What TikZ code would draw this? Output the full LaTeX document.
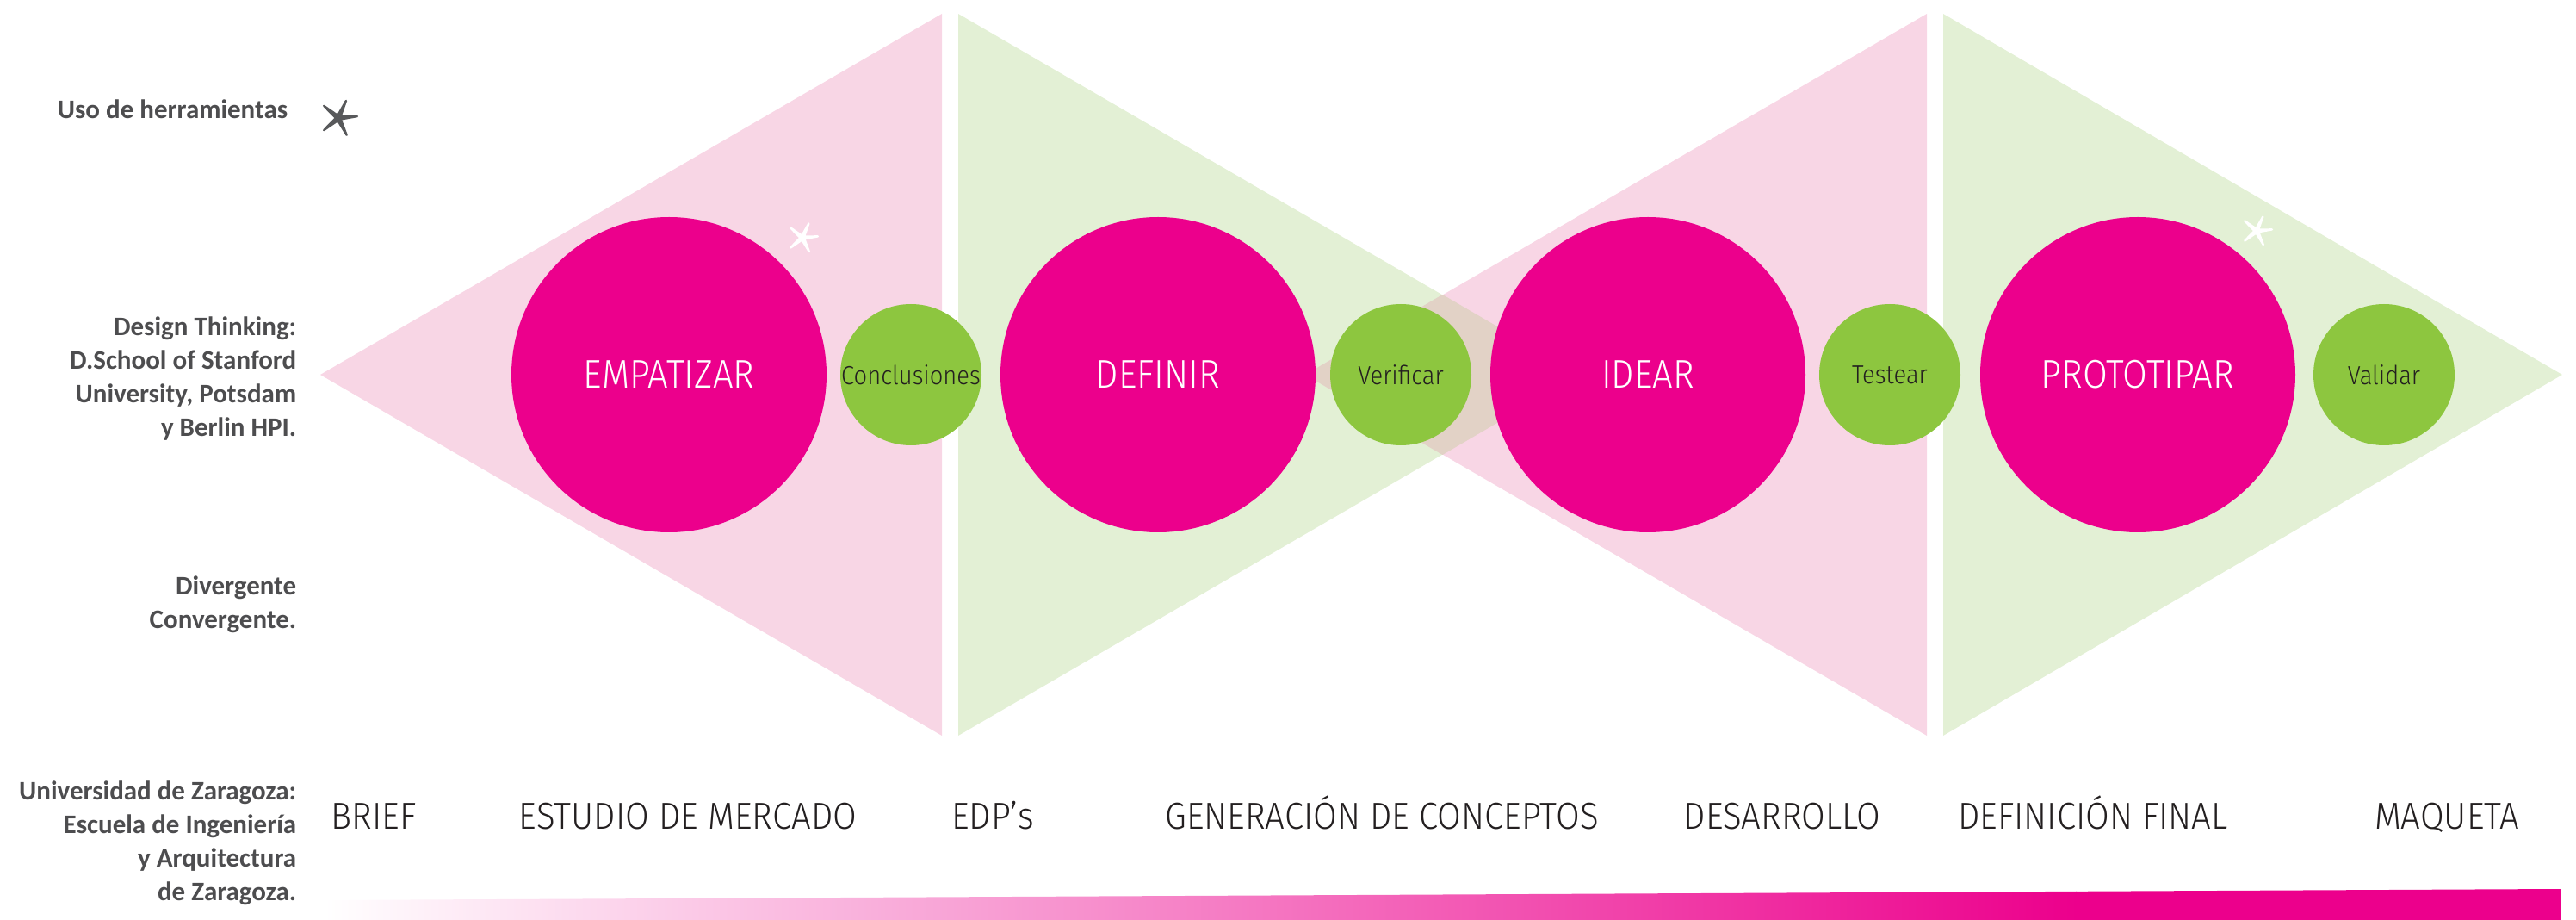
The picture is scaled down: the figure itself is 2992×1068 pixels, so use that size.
\documentclass[tikz,border=0pt]{standalone}
\usepackage{fontspec}
\setmainfont{Carlito}
\newfontfamily\thinfont{Fira Sans Light}[FakeStretch=0.9]
\newfontfamily\phasefont{Fira Sans Light}[FakeStretch=0.92]

\definecolor{hotpink}{HTML}{EC008C}
\definecolor{leaf}{HTML}{8DC63F}
\definecolor{pinkpale}{HTML}{F8D6E5}
\definecolor{greenpale}{HTML}{E3F0D5}
\definecolor{mixpale}{HTML}{E2D2C6}
\definecolor{labelgray}{HTML}{4D4D4F}
\definecolor{stargray}{HTML}{58595B}
\definecolor{inkblack}{HTML}{231F20}

\tikzset{
  sidelabel/.style={font=\fontsize{7.75}{9.75}\selectfont\bfseries, text=labelgray,
    align=right, inner sep=0pt},
  stagebig/.style={circle, fill=hotpink, minimum size=91.5pt, inner sep=0pt,
    text=white, font=\thinfont\fontsize{11.6}{12}\selectfont},
  stagesmall/.style={circle, fill=leaf, minimum size=41pt, inner sep=0pt,
    text=inkblack, font=\thinfont\fontsize{7.6}{8}\selectfont},
  phase/.style={anchor=base, inner sep=0pt, text=inkblack,
    font=\phasefont\fontsize{10.9}{12}\selectfont},
  % five-armed hand-drawn asterisk
  sparkle/.pic={
    \filldraw[pic actions, line width=0.6pt, line join=round]
      (-140:#1) -- (-103:0.14*#1) -- (-66:#1) -- (-35.5:0.14*#1)
      -- (-5:#1) -- (29.5:0.14*#1) -- (64:#1) -- (102:0.14*#1) -- (140:#1)
      -- (180:0.14*#1) -- cycle;
  }
}

\begin{document}
\begin{tikzpicture}[x=0.25pt,y=-0.25pt]
\useasboundingbox (0,0) rectangle (2992,1068);

% diverging / converging triangles
\fill[pinkpale]  (372,435) -- (1094,16) -- (1094,854) -- cycle;
\fill[greenpale] (1113,16) -- (1113,854) -- (1835,435) -- cycle;
\fill[pinkpale]  (1516,435) -- (2238,16) -- (2238,854) -- cycle;
\fill[greenpale] (2257,16) -- (2257,854) -- (2976,435) -- cycle;
% where the second and third triangles overlap
\fill[mixpale] (1516,435) -- (1675.5,342) -- (1835,435) -- (1675.5,528) -- cycle;

% stage circles
\node[stagebig]   (empatizar)    at (777,435)  {EMPATIZAR};
\node[stagesmall] (conclusiones) at (1058,435) {Conclusiones};
\node[stagebig]   (definir)      at (1345,435) {DEFINIR};
\node[stagesmall] (verificar)    at (1627,435) {Verificar};
\node[stagebig]   (idear)        at (1914,435) {IDEAR};
\node[stagesmall] (testear)      at (2195,435) {Testear};
\node[stagebig]   (prototipar)   at (2483,435) {PROTOTIPAR};
\node[stagesmall] (validar)      at (2769,435) {Validar};

% tool-use markers
\pic[fill=stargray, draw=stargray] at (393,137) {sparkle=22};
\pic[fill=white, draw=white] at (932,276) {sparkle=18};
\pic[fill=white, draw=white] at (2621,268) {sparkle=18};

% row labels on the left
\node[sidelabel, anchor=base east] (tools) at (335,138) {Uso de herramientas};
\node[sidelabel, anchor=north east] (dt) at (345,367)
  {Design Thinking:\\D.School of Stanford\\University, Potsdam\\y Berlin HPI.};
\node[sidelabel, anchor=north east] (dc) at (345,668)
  {Divergente\\Convergente.};
\node[sidelabel, anchor=north east] (uz) at (345,906)
  {Universidad de Zaragoza:\\Escuela de Ingeniería\\y Arquitectura\\de Zaragoza.};

% project phases
\node[phase] (brief)    at (434,963)  {BRIEF};
\node[phase] (estudio)  at (799,963)  {ESTUDIO DE MERCADO};
\node[phase] (edps)     at (1153,963) {EDP’s};
\node[phase] (genera)   at (1605,963) {GENERACIÓN DE CONCEPTOS};
\node[phase] (desarr)   at (2070,963) {DESARROLLO};
\node[phase] (deffin)   at (2431,963) {DEFINICIÓN FINAL};
\node[phase] (maqueta)  at (2842,963) {MAQUETA};

% progress bar
\begin{scope}
  \clip (377,1045) -- (2975,1032) -- (2975,1068) -- (377,1068) -- cycle;
  \shade[left color=white, right color=hotpink] (377,1028) rectangle (2412,1068);
  \fill[hotpink] (2411,1028) rectangle (2975,1068);
\end{scope}
\end{tikzpicture}
\end{document}
